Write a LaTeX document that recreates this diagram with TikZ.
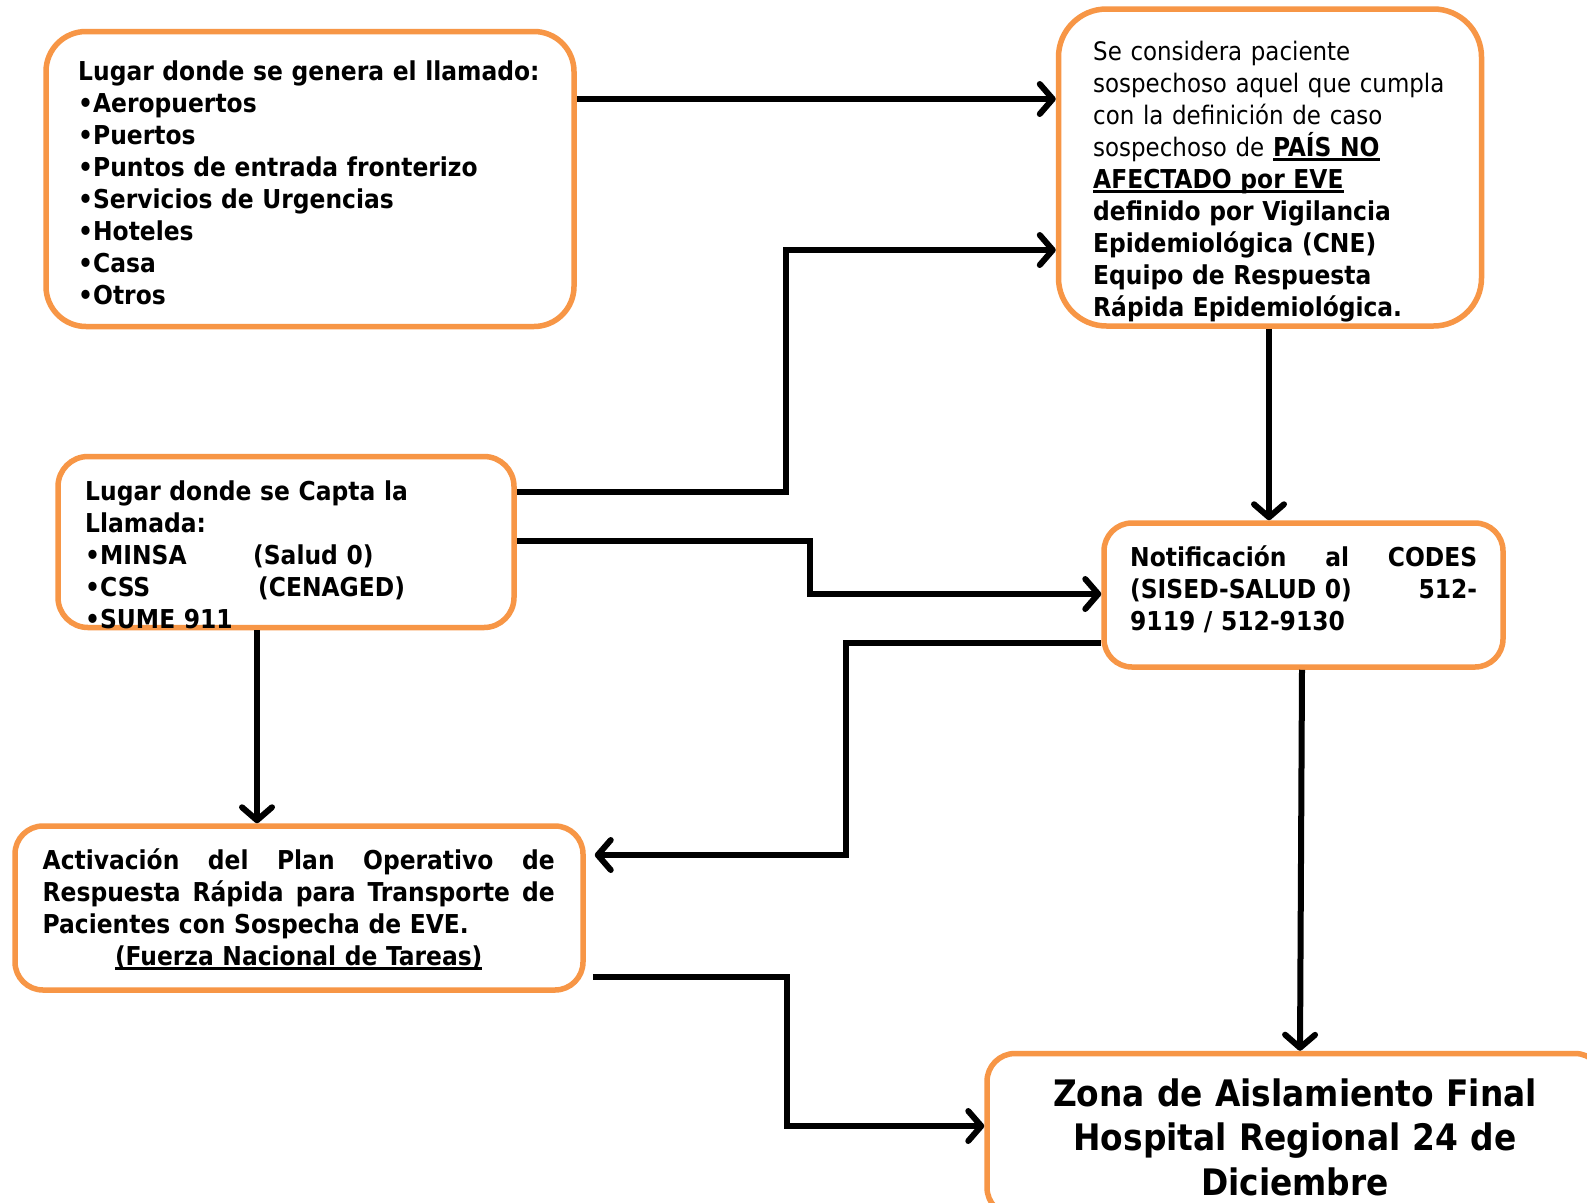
\documentclass[tikz,border=0pt]{standalone}
\usepackage{fontspec}
\setmainfont{DejaVu Sans Condensed}
\usepackage{tikz}
\usetikzlibrary{arrows.meta}

\definecolor{naranja}{HTML}{F79646}
\newcommand{\ulbox}[1]{\leavevmode\setbox0=\hbox{#1}\rlap{\rule[-4.5pt]{\wd0}{2.6pt}}\box0}

\begin{document}
\begin{tikzpicture}[x=1pt,y=-1pt,
		caja/.style={draw=naranja,line width=5.5pt,fill=white,rounded corners=#1,inner sep=0pt},
		caja/.default=40pt,
		texto/.style={inner sep=0pt,anchor=base west,align=left,font=\fontsize{26}{32}\selectfont\bfseries},
		flujo/.style={line width=6pt,-{Straight Barb[length=13pt,width=30pt,round]}}]

		\useasboundingbox[fill=white] (0,0) rectangle (1587,1202);

		\node[caja,minimum width=528,minimum height=295] (genera) at (310,179) {};
		\node[caja=48pt,minimum width=423,minimum height=317] (sospecha) at (1270,167.5) {};
		\node[caja=30pt,minimum width=456,minimum height=171] (capta) at (286,542) {};
		\node[caja=28pt,minimum width=399,minimum height=144] (notif) at (1303.5,595) {};
		\node[caja=28pt,minimum width=568,minimum height=164] (plan) at (299,908) {};
		\node[caja=28pt,minimum width=616,minimum height=162] (zona) at (1295,1134.5) {};

		\node[texto,text width=470] (generaT) at (78,80) {Lugar donde se genera el llamado:\\ •Aeropuertos\\ •Puertos\\ •Puntos de entrada fronterizo\\ •Servicios de Urgencias\\ •Hoteles\\ •Casa\\ •Otros};
		\node[texto,text width=380] (sospechaT) at (1093,60) {\mdseries\fontsize{25.5}{32}\selectfont Se considera paciente\\ sospechoso aquel que cumpla\\ con la definición de caso\\ sospechoso de \bfseries\fontsize{26}{32}\selectfont\ulbox{PAÍS NO}\\ \ulbox{AFECTADO por EVE}\\ definido por Vigilancia\\ Epidemiológica (CNE)\\ Equipo de Respuesta\\ Rápida Epidemiológica.};
		\node[texto,text width=420] (captaT) at (85,500) {Lugar donde se Capta la\\ Llamada:\\ \makebox[168pt][l]{•MINSA}(Salud 0)\\ \makebox[173pt][l]{•CSS}(CENAGED)\\ •SUME 911};
		\node[texto,text width=347] (notifT) at (1130,566) {Notificación\hfill al\hfill CODES\\ (SISED-SALUD 0)\hfill 512-\\ 9119 / 512-9130};
		\node[texto,text width=512] (planT) at (42.5,869) {Activación\hfill del\hfill Plan\hfill Operativo\hfill de\\ Respuesta\hfill Rápida\hfill para\hfill Transporte\hfill de\\ Pacientes con Sospecha de EVE.\\ \hfill\ulbox{(Fuerza Nacional de Tareas)}\hfill\null};
		\node[texto,anchor=base,align=center,text width=600,font=\fontsize{36.5}{44.5}\selectfont\bfseries] (zonaT) at (1295,1106) {Zona de Aislamiento Final\\ Hospital Regional 24 de\\ Diciembre};

		\draw[flujo] (genera.east |- 0,99) -- (sospecha.west |- 0,99);
		\draw[flujo] (capta.east |- 0,492) -| (786,250) -- (sospecha.west |- 0,250);
		\draw[flujo] (capta.east |- 0,541) -| (810,594) -- (notif.west |- 0,594);
		\draw[flujo] (sospecha.south -| 1269,0) -- (notif.north -| 1269,0);
		\draw[flujo,shorten >=9pt] (notif.west |- 0,643) -| (846,855) -- (plan.east |- 0,855);
		\draw[flujo] (capta.south -| 257,0) -- (plan.north -| 257,0);
		\draw[flujo] (notif.south -| 1302,0) -- (zona.north -| 1300,0);
		\draw[flujo,shorten <=7pt] (plan.east |- 0,977) -| (787,1126) -- (zona.west |- 0,1126);
	\end{tikzpicture}
\end{document}
